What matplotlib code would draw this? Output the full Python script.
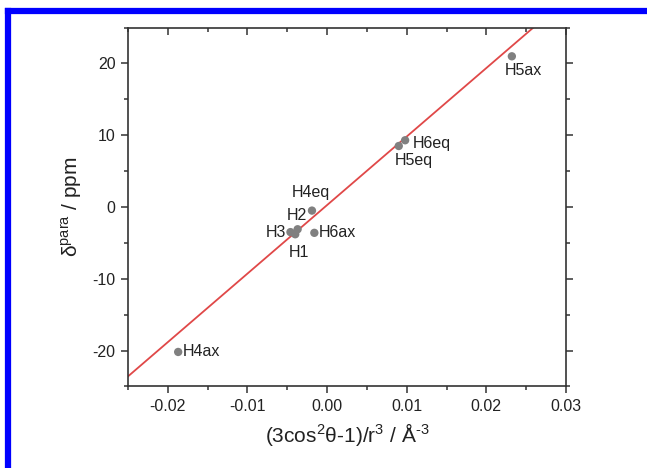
import matplotlib
matplotlib.use("Agg")
import matplotlib.pyplot as plt
import numpy as np
from matplotlib.ticker import MultipleLocator

plt.rcParams['font.family'] = ['Liberation Sans', 'DejaVu Sans']
plt.rcParams['axes.unicode_minus'] = False
plt.rcParams['mathtext.fontset'] = 'custom'
plt.rcParams['mathtext.rm'] = 'Liberation Sans'
plt.rcParams['mathtext.it'] = 'Liberation Sans:italic'
plt.rcParams['mathtext.bf'] = 'Liberation Sans:bold'

# Data
labels = ["H5ax", "H6eq", "H5eq", "H4eq", "H2", "H3", "H1", "H6ax", "H4ax"]
geom = [0.0232, 0.0098, 0.0090, -0.0019, -0.0037, -0.0046, -0.0040, -0.0016, -0.0187]
dpara = [21.0, 9.3, 8.5, -0.5, -3.1, -3.5, -3.8, -3.6, -20.2]
fit_slope = 955.0
fit_intercept = 0.27
xticks = [-0.02, -0.01, 0.00, 0.01, 0.02, 0.03]
yticks = [-20, -10, 0, 10, 20]

# label placement: (dx px, dy px, ha, va)
label_pos = {
    "H5ax": (-7, -14, 'left', 'center'),
    "H6eq": (8, -3, 'left', 'center'),
    "H5eq": (-4, -14, 'left', 'center'),
    "H4eq": (-1, 18, 'center', 'center'),
    "H2": (9, 14, 'right', 'center'),
    "H3": (-4, 0, 'right', 'center'),
    "H1": (4, -18, 'center', 'center'),
    "H6ax": (4, 0, 'left', 'center'),
    "H4ax": (5, 0, 'left', 'center'),
}

fig = plt.figure(figsize=(6.47, 4.68), dpi=100)
ax = fig.add_axes([128/647, 1-386.4/468, 438/647, 358.8/468])

xl = np.array([-0.025, 0.03])
ax.plot(xl, fit_slope*xl + fit_intercept, color='#e04848', lw=1.3, zorder=2)
ax.scatter(geom, dpara, s=36, color='#808080', edgecolors='none', zorder=3)

for lab, x, y in zip(labels, geom, dpara):
    dx, dy, ha, va = label_pos[lab]
    ax.annotate(lab, (x, y), xytext=(dx, dy), textcoords='offset pixels',
                ha=ha, va=va, fontsize=11.5, color='#222222', zorder=4)

ax.set_xlim(-0.025, 0.03)
ax.set_ylim(-25, 25)
ax.set_xticks(xticks)
ax.set_xticklabels([f"{t:.2f}" for t in xticks])
ax.set_yticks(yticks)
ax.set_yticklabels([str(t) for t in yticks])
ax.xaxis.set_minor_locator(MultipleLocator(0.005))
ax.yaxis.set_minor_locator(MultipleLocator(5))

for s in ax.spines.values():
    s.set_color('#333333')
    s.set_linewidth(1.2)

ax.tick_params(which='both', direction='out', color='#333333', width=1.1,
               labelsize=11.5, labelcolor='#222222')
ax.tick_params(which='major', length=5, pad=4)
ax.tick_params(which='minor', length=3)
ax.tick_params(axis='x', which='both', top=True, labeltop=False)
ax.tick_params(axis='y', which='both', right=True, labelright=False)

# top ticks inward, right ticks outward (as in reference)
for t in ax.xaxis.get_major_ticks() + ax.xaxis.get_minor_ticks():
    t.tick2line.set_marker(matplotlib.lines.TICKDOWN)

ax.set_xlabel("(3cos$^{2}$θ-1)/r$^{3}$ / Å$^{\u2010 3}$".replace("\u2010 ", "\u2010"),
              fontsize=15, color='#222222', labelpad=5)
ax.set_ylabel("δ$^{\\mathrm{para}}$ / ppm", fontsize=15, color='#222222', labelpad=6)

# blue frame of the page screenshot
fig.add_artist(plt.Line2D([8/647, 8/647], [0, 1-11/468], color='#0000ff', lw=4.5))
fig.add_artist(plt.Line2D([8/647, 1], [1-11/468, 1-11/468], color='#0000ff', lw=4.5))

fig.savefig("out.png", dpi=100)
